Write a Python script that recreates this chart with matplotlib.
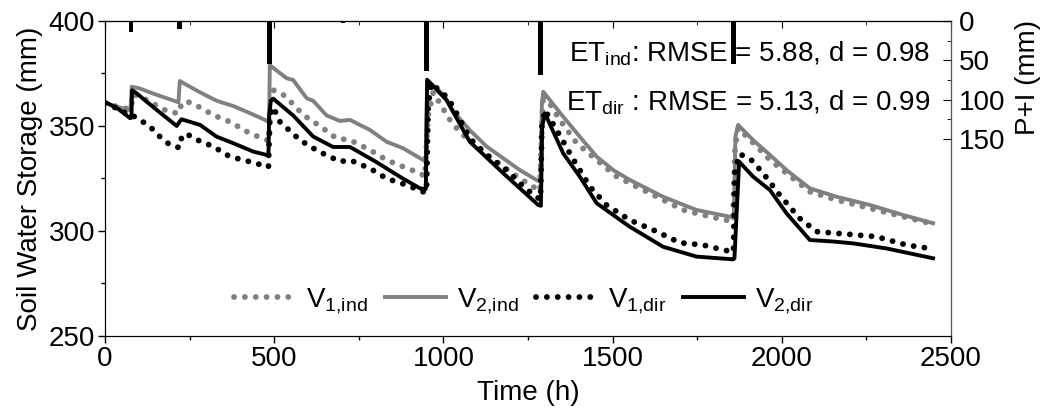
import matplotlib
matplotlib.use("Agg")
import matplotlib.pyplot as plt
from matplotlib.ticker import MultipleLocator, FixedLocator

plt.rcParams['font.family'] = ['Liberation Sans', 'DejaVu Sans']
plt.rcParams['mathtext.default'] = 'regular'

# ---------------- data ----------------
t_v1_ind = [0, 40, 75, 85, 123, 158, 187, 217, 225, 239, 271, 320, 369, 428, 475, 485, 490, 497, 527, 556, 586,
            635, 684, 724, 783, 832, 881, 931, 945, 955, 970, 1000, 1019, 1049, 1078, 1128, 1187, 1226, 1265,
            1285, 1290, 1295, 1344, 1394, 1453, 1512, 1581, 1649, 1709, 1768, 1832, 1855, 1862, 1871, 1915,
            1965, 2014, 2083, 2162, 2260, 2359, 2437]
v1_ind = [361, 359, 358, 365, 362.4, 359.2, 356.8, 356, 360, 361.9, 359.7, 355.2, 352, 346.5, 343.5, 343, 365,
          367.1, 364.8, 360.4, 355.2, 350, 344.1, 343.3, 338.6, 333.8, 330.6, 327.5, 326, 355, 366, 358, 353,
          347, 343, 336.5, 329.5, 325, 321.1, 319, 345, 365.6, 352.9, 341.8, 333.8, 325.9, 320.3, 314.8, 310,
          307.6, 305.2, 305, 340, 349, 342, 333.8, 327.5, 318.7, 314.8, 310.8, 306.8, 303.7]

t_v2_ind = [0, 34, 75, 79, 100, 150, 217, 221, 281, 330, 379, 430, 478, 485, 487, 492, 537, 556, 596, 615, 655,
            694, 724, 783, 832, 881, 940, 948, 952, 1000, 1029, 1078, 1128, 1177, 1226, 1275, 1287, 1291, 1295,
            1354, 1403, 1453, 1502, 1551, 1649, 1748, 1847, 1858, 1863, 1871, 1915, 1965, 2014, 2083, 2162,
            2260, 2359, 2447]
v2_ind = [361, 359.2, 357.5, 368.7, 368, 365, 361.3, 371.4, 366, 362, 359.5, 356, 352.5, 352, 379, 378.3, 372.7,
          371.9, 363.2, 362, 355, 352.4, 352.9, 348.1, 342.5, 339.4, 333.8, 333, 371.6, 365, 357, 348, 340.2,
          334.6, 329, 324.3, 323.5, 360, 366.3, 354.4, 344.9, 335.4, 329, 324.3, 316.3, 310, 306.8, 306, 345,
          350.5, 343.3, 336.2, 329, 320.3, 316.3, 312.4, 307.6, 303.7]

t_v1_dir = [0, 40, 75, 79, 108, 133, 172, 197, 220, 226, 239, 266, 320, 369, 428, 483, 487, 497, 517, 576, 635,
            655, 694, 724, 783, 832, 891, 940, 950, 955, 965, 1014, 1039, 1078, 1128, 1187, 1226, 1270, 1287,
            1291, 1300, 1349, 1379, 1433, 1482, 1551, 1620, 1699, 1768, 1827, 1857, 1862, 1876, 1910, 1945,
            1994, 2053, 2103, 2162, 2280, 2369, 2437]
v1_dir = [361, 358, 355, 355.2, 352.4, 349.7, 343.3, 340.6, 339.7, 344.3, 346.5, 343.8, 340.2, 335.4, 333,
          330.5, 355, 359, 352, 343.3, 337.5, 336.2, 333, 333.8, 329.8, 325, 321.9, 318.7, 318.5, 360, 370.3,
          363.2, 356, 344.1, 336.2, 329, 322.7, 316.7, 315, 350, 357.6, 344.1, 335.4, 321.1, 312.4, 305.2,
          300.5, 294.4, 293.3, 291, 290, 330, 336.7, 333.8, 327.5, 317.1, 306, 299.7, 298.9, 297.3, 293.3,
          291.7]

t_v2_dir = [0, 40, 74, 78, 80, 90, 150, 212, 222, 226, 281, 330, 379, 438, 483, 485, 490, 497, 556, 615, 674,
            724, 800, 880, 931, 948, 952, 1009, 1078, 1177, 1280, 1288, 1292, 1300, 1354, 1403, 1453, 1551,
            1649, 1748, 1856, 1860, 1874, 1915, 1965, 2014, 2083, 2150, 2211, 2309, 2447]
v2_dir = [361.5, 358, 353.7, 354, 367, 366, 358, 350, 352.4, 353.2, 350.5, 344.9, 341.8, 337.8, 336, 355, 362,
          363, 355, 345, 340, 340, 333, 325, 320.3, 320, 372, 362.4, 342.5, 327.5, 312.4, 312, 350, 356, 337,
          325.9, 313.2, 302, 292.5, 287.8, 286.5, 287, 333, 325.9, 319.5, 308.4, 295.7, 295, 294.1, 291.7, 287]

t_rain = [77, 221, 485, 703, 951, 1288, 1858]
rain = [14, 10, 54, 3, 63, 68, 54]

x_ticks = [0, 500, 1000, 1500, 2000, 2500]
y_ticks = [250, 300, 350, 400]
p_ticks = [0, 50, 100, 150]

GREY = '#808080'
FS = 20

fig = plt.figure(figsize=(10.47, 4.18), dpi=100)
ax = fig.add_axes([0.1003, 0.1962, 0.8080, 0.7536])

dot_ls = (0, (0.01, 1.85))
l1, = ax.plot(t_v1_ind, v1_ind, color=GREY, lw=4.2, ls=dot_ls, dash_capstyle='round', label='V$_{1{,}ind}$')
l2, = ax.plot(t_v2_ind, v2_ind, color=GREY, lw=2.8, label='V$_{2{,}ind}$')
l3, = ax.plot(t_v1_dir, v1_dir, color='black', lw=4.2, ls=dot_ls, dash_capstyle='round', label='V$_{1{,}dir}$')
l4, = ax.plot(t_v2_dir, v2_dir, color='black', lw=2.8, label='V$_{2{,}dir}$')

ax.set_xlim(0, 2500)
ax.set_ylim(250, 400)
ax.xaxis.set_major_locator(FixedLocator(x_ticks))
ax.xaxis.set_minor_locator(MultipleLocator(250))
ax.yaxis.set_major_locator(FixedLocator(y_ticks))
ax.yaxis.set_minor_locator(MultipleLocator(25))
ax.tick_params(axis='both', which='major', direction='out', length=5, width=1, labelsize=FS,
               top=False, right=False, pad=2)
ax.tick_params(axis='both', which='minor', direction='out', length=3, width=1, top=False, right=False)
ax.set_xlabel('Time (h)', fontsize=FS, labelpad=6)
ax.set_ylabel('Soil Water Storage (mm)', fontsize=FS, labelpad=4)

# mirrored inward ticks on top
axt = ax.secondary_xaxis('top')
axt.xaxis.set_major_locator(FixedLocator(x_ticks))
axt.xaxis.set_minor_locator(MultipleLocator(250))
axt.tick_params(which='major', direction='in', length=5, labeltop=False)
axt.tick_params(which='minor', direction='in', length=3, labeltop=False)

# right axis: P+I (inverted)
ax2 = ax.twinx()
ax2.set_ylim(400, 0)
ax2.bar(t_rain, rain, width=14, color='black', align='center')
ax2.yaxis.set_major_locator(FixedLocator(p_ticks))
ax2.yaxis.set_minor_locator(FixedLocator([25, 75, 125]))
ax2.tick_params(axis='y', which='major', direction='in', length=6, labelsize=FS, pad=6)
ax2.tick_params(axis='y', which='minor', direction='in', length=3)
ax2.set_ylabel('P+I (mm)', fontsize=FS)
ax2.yaxis.set_label_coords(1.076, 0.82)
ax2.spines['right'].set_color('#555555')

ax.text(0.975, 0.870, 'ET$_{ind}$: RMSE = 5.88, d = 0.98', transform=ax.transAxes,
        ha='right', va='baseline', fontsize=FS)
ax.text(0.975, 0.717, 'ET$_{dir}$ : RMSE = 5.13, d = 0.99', transform=ax.transAxes,
        ha='right', va='baseline', fontsize=FS)

ax.legend(handles=[l1, l2, l3, l4], loc='center', bbox_to_anchor=(0.495, 0.11), ncol=4,
          frameon=False, fontsize=FS, handlelength=2.2, handletextpad=0.4, columnspacing=0.6,
          borderpad=0.2)

fig.savefig('out.png', dpi=100)
